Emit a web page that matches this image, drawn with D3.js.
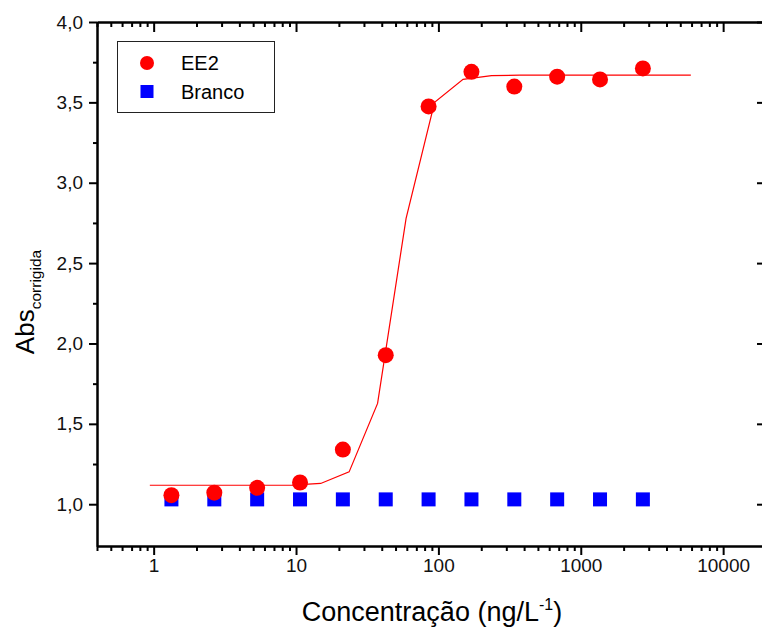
<!DOCTYPE html>
<html>
<head>
<meta charset="utf-8">
<script src="https://cdn.jsdelivr.net/npm/d3@7"></script>
<style>
  html, body { margin: 0; padding: 0; background: #fff; }
  svg { display: block; font-family: "Liberation Sans", Arial, sans-serif; }
</style>
</head>
<body>
<svg id="chart" width="762" height="628"></svg>
<script>
// Concentrations (ng/L), doubling series
const concentrations = [1.333, 2.667, 5.333, 10.667, 21.33, 42.67, 85.33, 170.67, 341.33, 682.67, 1365.3, 2730.7];
// Corrected absorbance, EE2 samples
const ee2Values = [1.056, 1.072, 1.102, 1.135, 1.340, 1.927, 3.475, 3.690, 3.598, 3.660, 3.643, 3.711];
// Corrected absorbance, blank
const brancoValues = [1.03, 1.03, 1.03, 1.03, 1.03, 1.03, 1.03, 1.03, 1.03, 1.03, 1.03, 1.03];

// Sigmoidal fit curve, sampled points
const fitX = [0.94, 1.49, 2.36, 3.74, 5.93, 9.4, 14.9, 23.6, 37.4, 59.3, 94, 149, 236, 374, 593, 940, 1490, 2360, 3740, 5930];
const fitY = [1.118, 1.118, 1.118, 1.118, 1.118, 1.119, 1.129, 1.201, 1.627, 2.778, 3.500, 3.643, 3.666, 3.669, 3.669, 3.669, 3.669, 3.669, 3.669, 3.669];

// Axis ticks
const xMajorTicks = [1, 10, 100, 1000, 10000];
const yMajorTicks = [1.0, 1.5, 2.0, 2.5, 3.0, 3.5, 4.0];
const yMinorTicks = [1.25, 1.75, 2.25, 2.75, 3.25, 3.75];

const seriesNames = ["EE2", "Branco"];

const svg = d3.select("#chart");
const plotLeft = 97, plotRight = 766, plotTop = 22, plotBottom = 546;

const x = d3.scaleLog().domain([0.4, 20000]).range([plotLeft, plotRight]);
const y = d3.scaleLinear().domain([0.74, 4.0]).range([plotBottom, plotTop]);

// minor log ticks: 2..9 within each decade inside the domain
const xMinorTicks = [0.4];
for (let e = -1; e <= 4; e++) {
  for (let m = 2; m <= 9; m++) {
    const v = m * Math.pow(10, e);
    if (v > 0.4 && v <= 20000) xMinorTicks.push(v);
  }
}

const fmtY = d => d3.format(".1f")(d).replace(".", ",");

function styleAxis(g) {
  g.selectAll("path.domain").attr("stroke", "#000").attr("stroke-width", 2);
  g.selectAll(".tick line").attr("stroke", "#000").attr("stroke-width", 2);
  g.selectAll(".tick text").attr("font-size", 19).attr("font-family", "Liberation Sans, Arial, sans-serif").attr("fill", "#111");
}

// bottom axis
const gB = svg.append("g").attr("transform", `translate(0,${plotBottom})`)
  .call(d3.axisBottom(x).tickValues(xMajorTicks).tickFormat(d3.format("d")).tickSize(9).tickSizeOuter(0).tickPadding(4));
styleAxis(gB);
const gBm = svg.append("g").attr("transform", `translate(0,${plotBottom})`)
  .call(d3.axisBottom(x).tickValues(xMinorTicks).tickFormat("").tickSize(5).tickSizeOuter(0));
styleAxis(gBm);

// top axis (inward ticks)
const gT = svg.append("g").attr("transform", `translate(0,${plotTop})`)
  .call(d3.axisTop(x).tickValues(xMajorTicks).tickFormat("").tickSize(-10).tickSizeOuter(0));
styleAxis(gT);
const gTm = svg.append("g").attr("transform", `translate(0,${plotTop})`)
  .call(d3.axisTop(x).tickValues(xMinorTicks).tickFormat("").tickSize(-5).tickSizeOuter(0));
styleAxis(gTm);

// left axis
const gL = svg.append("g").attr("transform", `translate(${plotLeft},0)`)
  .call(d3.axisLeft(y).tickValues(yMajorTicks).tickFormat(fmtY).tickSize(8).tickSizeOuter(0).tickPadding(6));
styleAxis(gL);
const gLm = svg.append("g").attr("transform", `translate(${plotLeft},0)`)
  .call(d3.axisLeft(y).tickValues(yMinorTicks).tickFormat("").tickSize(4).tickSizeOuter(0));
styleAxis(gLm);

// right axis (inward ticks)
const gR = svg.append("g").attr("transform", `translate(${plotRight},0)`)
  .call(d3.axisRight(y).tickValues(yMajorTicks).tickFormat("").tickSize(-9).tickSizeOuter(0));
styleAxis(gR);
const gRm = svg.append("g").attr("transform", `translate(${plotRight},0)`)
  .call(d3.axisRight(y).tickValues(yMinorTicks).tickFormat("").tickSize(-4).tickSizeOuter(0));
styleAxis(gRm);

// fit curve
const fitData = fitX.map((v, i) => [v, fitY[i]]);
svg.append("path")
  .datum(fitData)
  .attr("fill", "none")
  .attr("stroke", "#ff0000")
  .attr("stroke-width", 1.2)
  .attr("d", d3.line().x(d => x(d[0])).y(d => y(d[1])));

// blank squares
const sq = 14;
svg.append("g").selectAll("rect")
  .data(concentrations.map((c, i) => [c, brancoValues[i]]))
  .join("rect")
  .attr("x", d => x(d[0]) - sq / 2)
  .attr("y", d => y(d[1]) - sq / 2)
  .attr("width", sq).attr("height", sq)
  .attr("fill", "#0000ff");

// EE2 circles
svg.append("g").selectAll("circle")
  .data(concentrations.map((c, i) => [c, ee2Values[i]]))
  .join("circle")
  .attr("cx", d => x(d[0]))
  .attr("cy", d => y(d[1]))
  .attr("r", 8)
  .attr("fill", "#ff0000");

// legend
const lg = svg.append("g");
lg.append("rect").attr("x", 117.5).attr("y", 41.5).attr("width", 157).attr("height", 71)
  .attr("fill", "#fff").attr("stroke", "#222").attr("stroke-width", 1);
lg.append("circle").attr("cx", 147).attr("cy", 63).attr("r", 7).attr("fill", "#ff0000");
lg.append("rect").attr("x", 140.5).attr("y", 85).attr("width", 13).attr("height", 13).attr("fill", "#0000ff");
lg.append("text").attr("x", 181).attr("y", 70).attr("font-size", 20).attr("fill", "#000").text(seriesNames[0]);
lg.append("text").attr("x", 181).attr("y", 98.5).attr("font-size", 20).attr("fill", "#000").text(seriesNames[1]);

// x axis title
const xt = svg.append("text").attr("x", 432).attr("y", 621).attr("text-anchor", "middle")
  .attr("font-size", 27).attr("fill", "#000");
xt.append("tspan").text("Concentração (ng/L");
xt.append("tspan").attr("font-size", 16).attr("dy", -11).text("-1");
xt.append("tspan").attr("dy", 11).text(")");

// y axis title
const yt = svg.append("text").attr("transform", "translate(34,302) rotate(-90)")
  .attr("text-anchor", "middle").attr("font-size", 26).attr("fill", "#000");
yt.append("tspan").text("Abs");
yt.append("tspan").attr("font-size", 15.5).attr("dy", 7).text("corrigida");
</script>
</body>
</html>
